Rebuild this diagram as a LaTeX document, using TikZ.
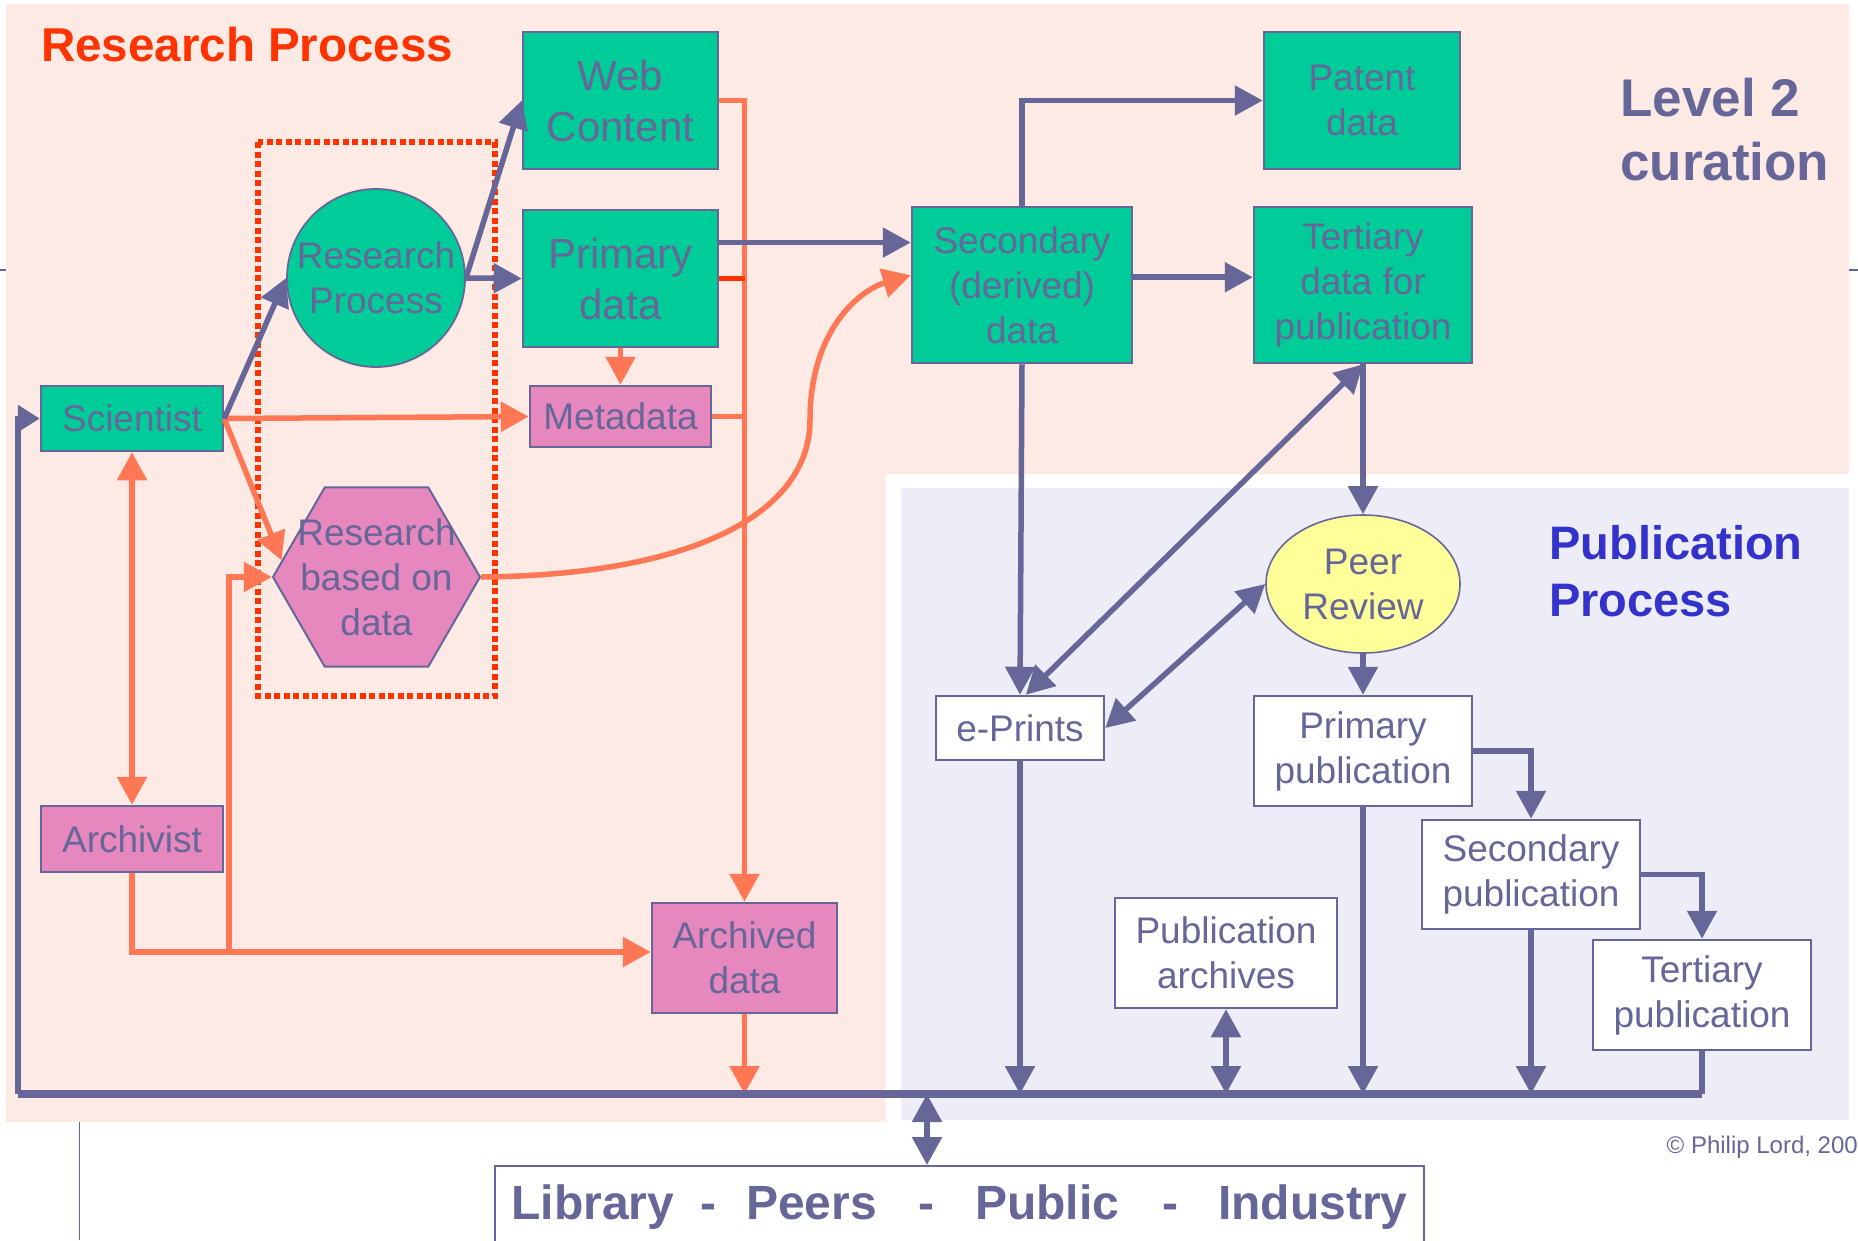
\documentclass[tikz,border=0pt]{standalone}
\usepackage{fontspec}
\setmainfont{Liberation Sans}
\usetikzlibrary{arrows.meta,shapes.geometric}
\definecolor{rpgreen}{HTML}{00CC99}
\definecolor{rppurple}{HTML}{666699}
\definecolor{rppink}{HTML}{E688BE}
\definecolor{rporange}{HTML}{FF7755}
\definecolor{rpred}{HTML}{FF3300}
\definecolor{rpback}{HTML}{FDEAE4}
\definecolor{ppback}{HTML}{EDEDF8}
\definecolor{ppyellow}{HTML}{FFFF99}
\definecolor{ppblue}{HTML}{3333CC}
\begin{document}
\begin{tikzpicture}[x=1pt,y=-1pt,
  >={Triangle[length=28pt,width=29pt]},
  box/.style={draw=rppurple, line width=2.5pt, text=rppurple, align=center, inner sep=0pt, font=\fontsize{37}{45}\selectfont},
  greenbox/.style={box, fill=rpgreen},
  pinkbox/.style={box, fill=rppink},
  whitebox/.style={box, fill=white},
  lbl/.style={inner sep=0pt, align=left, anchor=west},
  conn/.style={rppurple, line width=5.5pt},
  oconn/.style={rporange, line width=5.5pt}]
\useasboundingbox (0,0) rectangle (1858,1240);
\fill[rpback] (6,4) -- (1849,4) -- (1849,474) -- (886,474) -- (886,1122) -- (6,1122) -- cycle;
\fill[ppback] (901,488) rectangle (1849,1120);
\draw[rppurple, line width=1.5pt] (0,270) -- (6,270) (1849,270) -- (1858,270);
\draw[rppurple, line width=1pt] (79,1122) -- (79,1240);
\draw[rpred, line width=6pt, dash pattern=on 6pt off 3.5pt] (258,142) rectangle (495,696);

\node (title) at (41,45) [lbl, text=rpred, font=\fontsize{47.5}{57}\selectfont\bfseries] {Research Process};
\node (level) at (1620,130) [lbl, text=rppurple, font=\fontsize{53}{64}\selectfont\bfseries] {Level 2\\curation};
\node (pubproc) at (1549,571) [lbl, text=ppblue, font=\fontsize{47}{57}\selectfont\bfseries] {Publication\\Process};
\node (copy) at (1858,1147) [lbl, anchor=east, text=rppurple, font=\fontsize{24}{29}\selectfont] {© Philip Lord, 200};

\node (web) at (620.5,100.5) [greenbox, minimum width=195, minimum height=137, font=\fontsize{42}{51}\selectfont] {Web\\Content};
\node (primary) at (620.5,278.5) [greenbox, minimum width=195, minimum height=137, font=\fontsize{42}{51}\selectfont] {Primary\\data};
\node (research) at (376,278) [greenbox, circle, line width=1.8pt, minimum size=178] {Research\\Process};
\node (metadata) at (620.5,416.5) [pinkbox, minimum width=181, minimum height=61] {Metadata};
\node (scientist) at (132,418.5) [greenbox, minimum width=182, minimum height=65] {Scientist};
\node (hex) at (376.5,577) [draw=rppurple, fill=rppink, line width=2pt, regular polygon, regular polygon sides=6, minimum size=207, inner sep=0pt,
  label={[box, draw=none]center:Research\\based on\\data}] {};
\node (archivist) at (132,839) [pinkbox, minimum width=182, minimum height=66] {Archivist};
\node (archived) at (744.5,958) [pinkbox, minimum width=185, minimum height=110] {Archived\\data};
\node (secondary) at (1022,285) [greenbox, minimum width=220, minimum height=156] {Secondary\\(derived)\\data};
\node (patent) at (1362,100.5) [greenbox, minimum width=196, minimum height=137] {Patent\\data};
\node (tertiary) at (1363,285) [greenbox, minimum width=218, minimum height=156] {Tertiary\\data for\\publication};
\node (peer) at (1363,584) [box, ellipse, fill=ppyellow, line width=1.6pt, minimum width=194, minimum height=138] {Peer\\Review};
\node (eprints) at (1020,728) [whitebox, minimum width=168, minimum height=64] {e-Prints};
\node (primpub) at (1363,751) [whitebox, minimum width=218, minimum height=110] {Primary\\publication};
\node (secpub) at (1531,874.5) [whitebox, minimum width=218, minimum height=109] {Secondary\\publication};
\node (tertpub) at (1702,995) [whitebox, minimum width=218, minimum height=110] {Tertiary\\publication};
\node (pubarch) at (1226,953) [whitebox, minimum width=222, minimum height=110] {Publication\\archives};
\node (library) at (959.5,1165) [whitebox, anchor=north, line width=2pt, minimum width=929, minimum height=82, font=\fontsize{48}{58}\selectfont\bfseries]
  {Library\hspace{26pt}-\hspace{30pt}Peers\hspace{41pt}-\hspace{41pt}Public\hspace{43pt}-\hspace{40pt}Industry};

\coordinate (busL) at (18,1094);
\coordinate (busR) at (1702,1094);
\coordinate (busM) at (927,1094);
\coordinate (split) at (229,952);

\draw[oconn,->] (scientist.east) -- (metadata.west);
\draw[oconn,->] (scientist.east) -- (hex.170);
\draw[oconn,<->] (scientist.south) -- (archivist.north);
\draw[oconn,->] (primary.south) -- (metadata.north);
\draw[oconn,->] (web.east) -| (archived.north);
\draw[oconn] (metadata.east) -- (metadata.east -| archived.north);
\draw[rpred, line width=5.5pt] (primary.east) -- (primary.east -| archived.north);
\draw[oconn,->] (archivist.south) |- (split) -- (split -| archived.west);
\draw[oconn,->] (split) |- (hex.west);
\draw[oconn,->] (hex.east) .. controls (700,575) and (810,510) .. (810,420) .. controls (810,330) and (860,290) .. (secondary.175);
\draw[oconn,->] (archived.south) -- (archived.south |- busL);

\draw[conn,->] (scientist.east) -- (research.west);
\draw[conn,->] (research.east) -- (web.west);
\draw[conn,->] (research.east) -- (primary.west);
\draw[conn,->] (primary.20) -- (primary.20 -| secondary.west);
\draw[conn,->] (secondary.north) |- (patent.west);
\draw[conn,->] (secondary.4) -- (secondary.4 -| tertiary.west);
\draw[conn,->] (secondary.south) -- (eprints.north);
\draw[conn,<->] (tertiary.south) -- (eprints.80);
\draw[conn,->] (tertiary.south) -- (peer.north);
\draw[conn,<->] (peer.west) -- (eprints.east);
\draw[conn,->] (peer.south) -- (primpub.north);
\draw[conn,->] (primpub.east) -| (secpub.north);
\draw[conn,->] (secpub.east) -| (tertpub.north);

\draw[conn, line width=7.5pt] (busL) -- (busR);
\draw[conn] (tertpub.south) -- (busR);
\draw[conn,-{Triangle[length=22pt,width=26pt]}] (busL) |- (scientist.west);
\draw[conn,->] (eprints.south) -- (eprints.south |- busL);
\draw[conn,->] (primpub.south) -- (primpub.south |- busL);
\draw[conn,->] (secpub.south) -- (secpub.south |- busL);
\draw[conn,<->] (pubarch.south) -- (pubarch.south |- busL);
\draw[conn,<->] (busM) -- (busM |- library.north);
\end{tikzpicture}
\end{document}
